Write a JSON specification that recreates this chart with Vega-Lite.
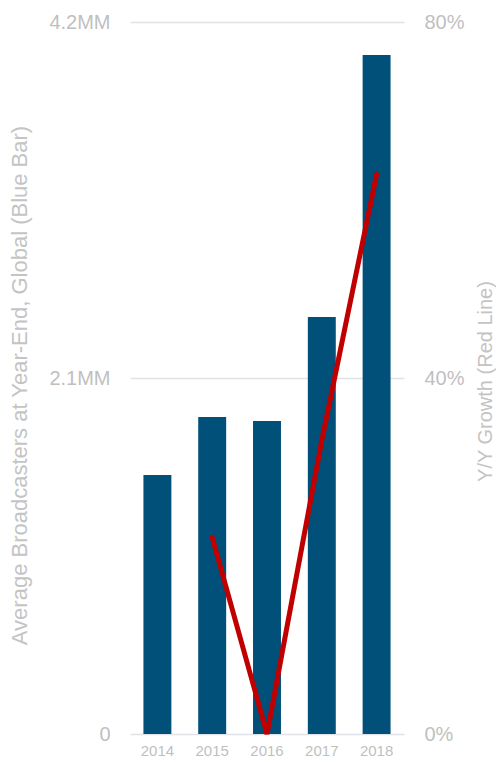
{
  "$schema": "https://vega.github.io/schema/vega-lite/v6.json",
  "autosize": "none",
  "width": 274,
  "height": 712,
  "padding": {"left": 130, "top": 22, "right": 92, "bottom": 28},
  "config": {
    "view": {"stroke": null},
    "font": "Liberation Sans"
  },
  "data": {
    "values": [
      {"year": "2014", "broadcasters": 1.528, "growth": null},
      {"year": "2015", "broadcasters": 1.87, "growth": 0.221},
      {"year": "2016", "broadcasters": 1.847, "growth": 0.0},
      {"year": "2017", "broadcasters": 2.46, "growth": 0.33},
      {"year": "2018", "broadcasters": 4.006, "growth": 0.629}
    ]
  },
  "encoding": {
    "x": {
      "field": "year",
      "type": "ordinal",
      "scale": {"paddingInner": 0.49, "paddingOuter": 0.245},
      "axis": {
        "title": null,
        "labelAngle": 0,
        "ticks": false,
        "domain": false,
        "labelPadding": 9,
        "labelFontSize": 15,
        "labelColor": "#bfbfbf",
        "grid": false
      }
    }
  },
  "layer": [
    {
      "mark": {"type": "bar", "color": "#005079"},
      "encoding": {
        "y": {
          "field": "broadcasters",
          "type": "quantitative",
          "scale": {"domain": [0, 4.2], "nice": false},
          "axis": {
            "values": [0, 2.1, 4.2],
            "labelExpr": "datum.value == 0 ? '0' : format(datum.value, '.1f') + 'MM'",
            "title": "Average Broadcasters at Year-End, Global (Blue Bar)",
            "titleFontSize": 22,
            "titleFontWeight": "normal",
            "titleColor": "#c4c4c4",
            "titleX": -111,
            "titleY": 363,
            "titleAngle": -90,
            "titleBaseline": "middle",
            "titleAlign": "center",
            "labelFontSize": 20,
            "labelColor": "#bfbfbf",
            "labelPadding": 20,
            "ticks": false,
            "domain": false,
            "grid": true,
            "gridColor": "#dfe3e8",
            "gridWidth": 1.5
          }
        }
      }
    },
    {
      "mark": {"type": "line", "color": "#c00000", "strokeWidth": 5, "strokeCap": "round"},
      "transform": [{"filter": "datum.growth != null"}],
      "encoding": {
        "y": {
          "field": "growth",
          "type": "quantitative",
          "scale": {"domain": [0, 0.8], "nice": false},
          "axis": {
            "orient": "right",
            "values": [0, 0.4, 0.8],
            "format": ".0%",
            "title": "Y/Y Growth (Red Line)",
            "titleFontSize": 20,
            "titleFontWeight": "normal",
            "titleColor": "#c4c4c4",
            "titleX": 81,
            "titleY": 359,
            "titleAngle": -90,
            "titleBaseline": "middle",
            "titleAlign": "center",
            "labelFontSize": 20,
            "labelColor": "#bfbfbf",
            "labelPadding": 20,
            "ticks": false,
            "domain": false,
            "grid": false
          }
        }
      }
    }
  ],
  "resolve": {"scale": {"y": "independent"}}
}
